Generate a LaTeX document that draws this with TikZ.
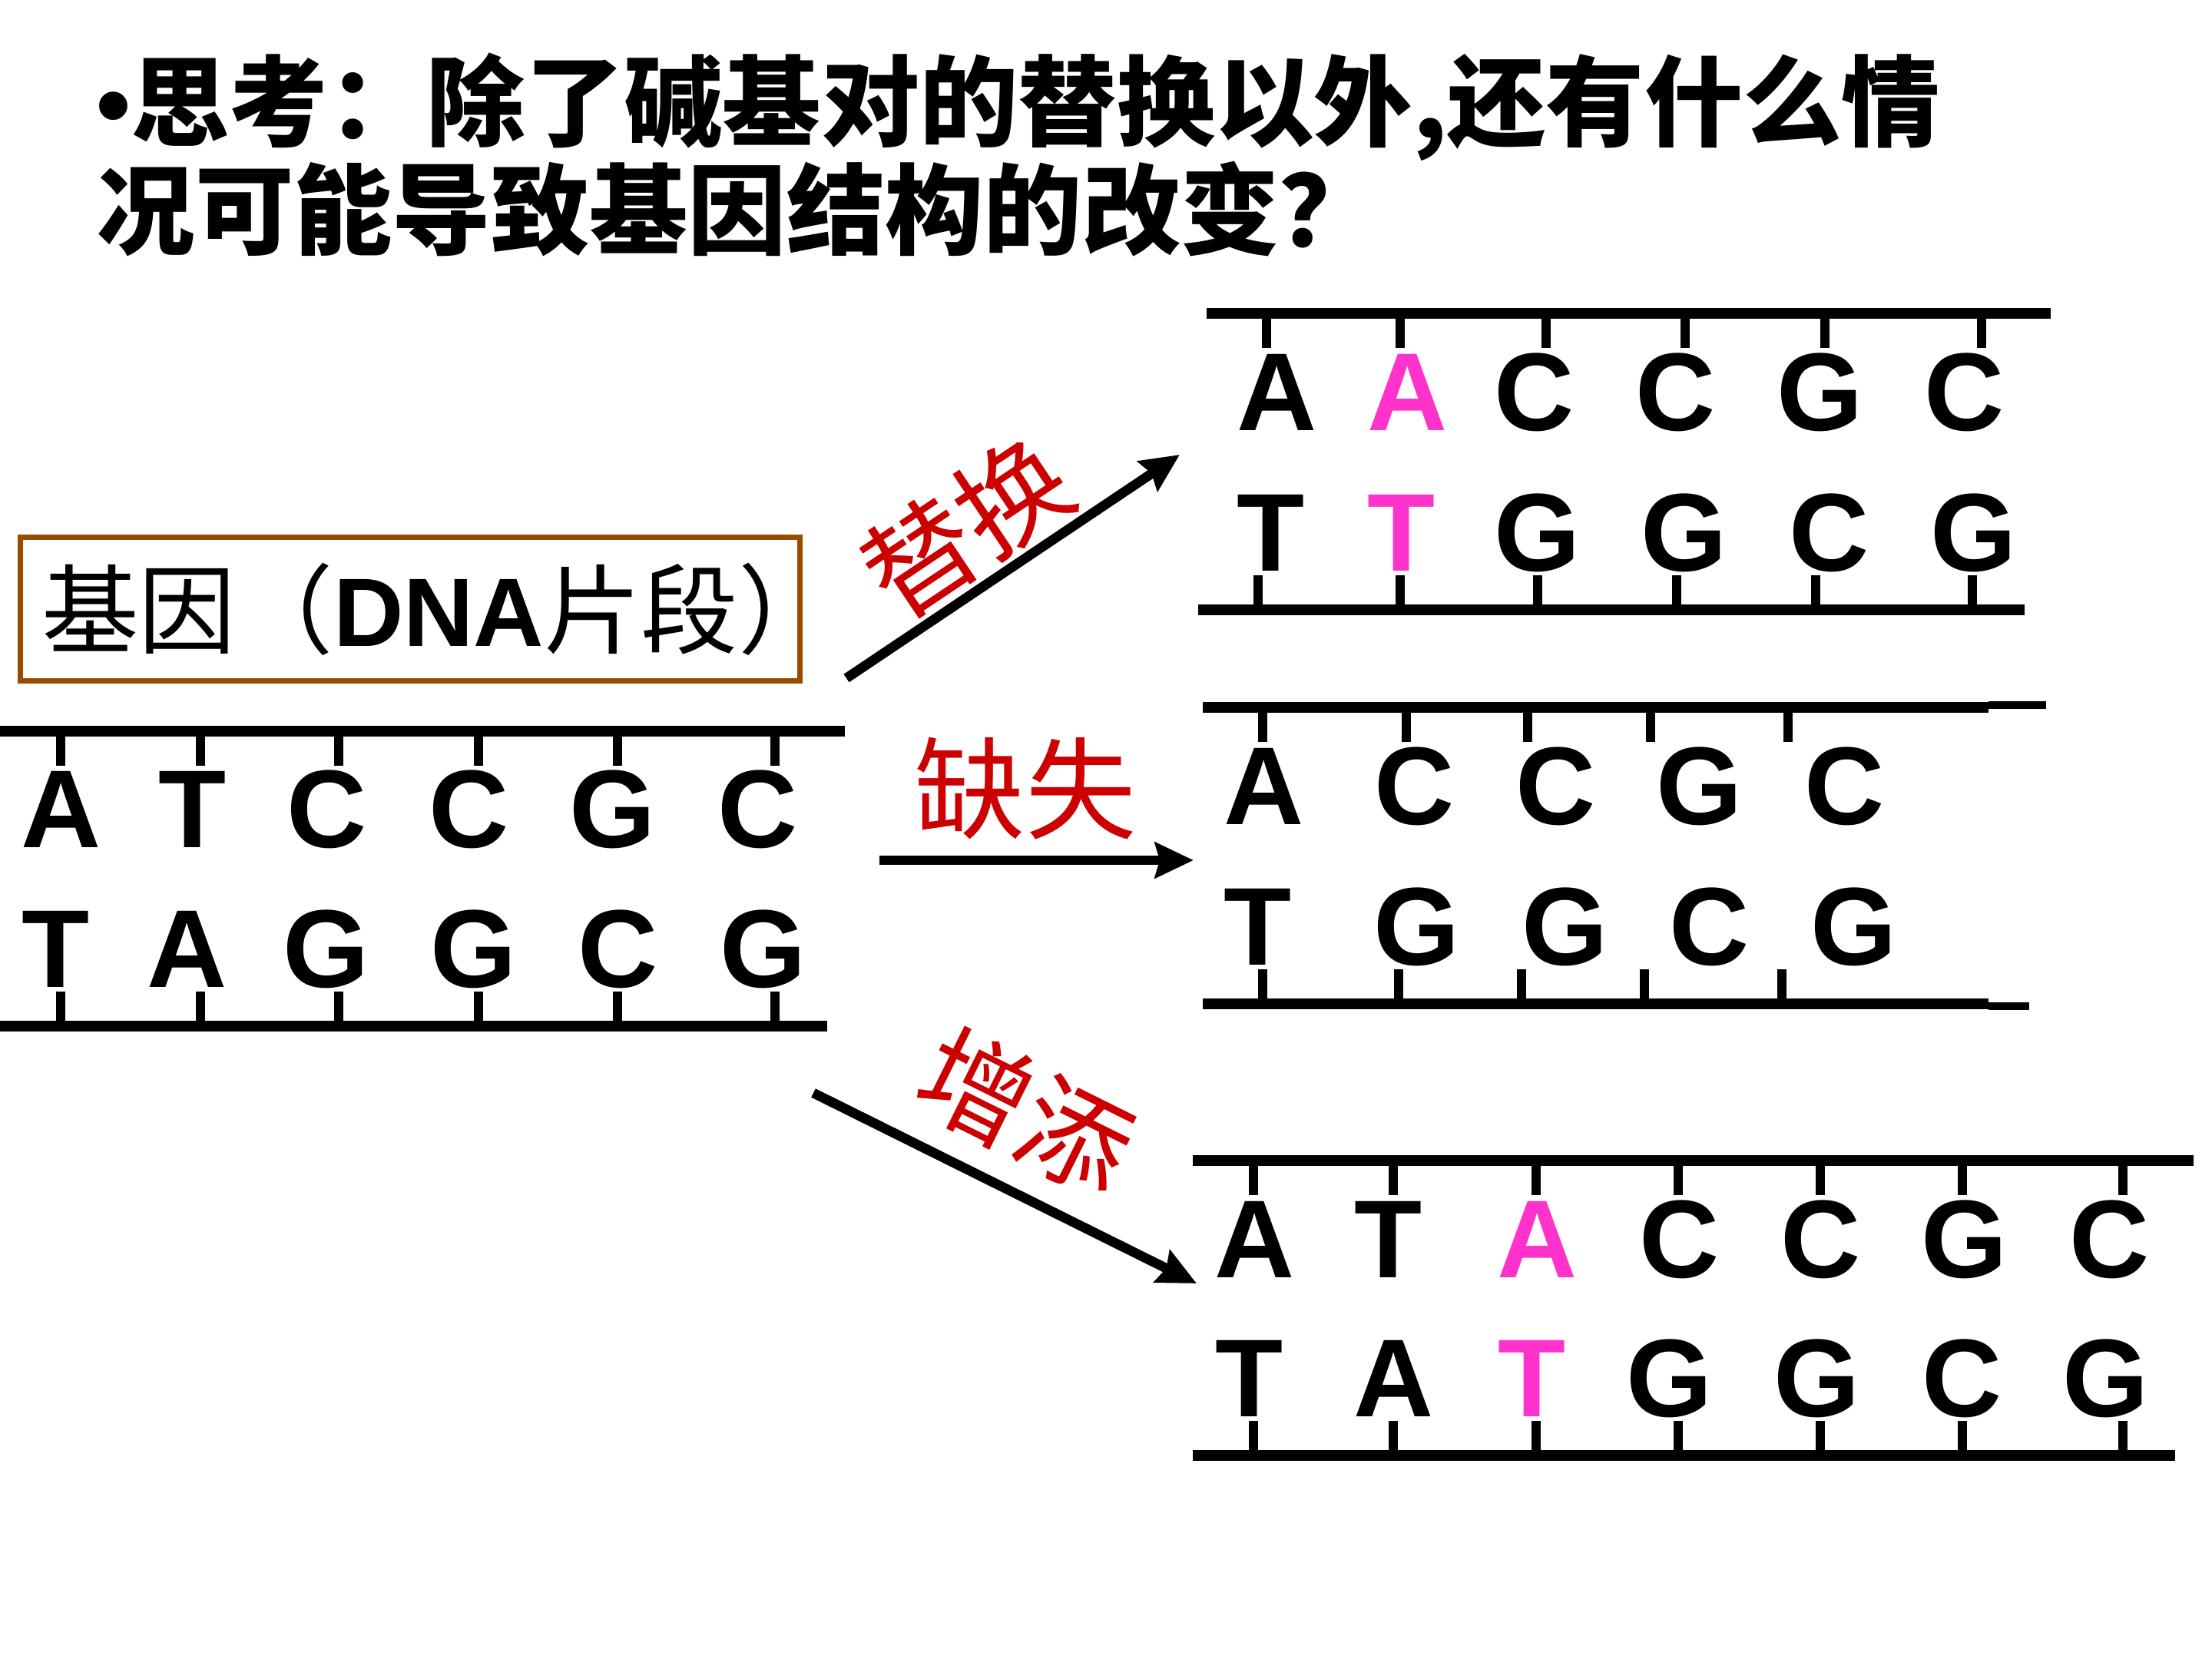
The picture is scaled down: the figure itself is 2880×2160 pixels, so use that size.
\documentclass[tikz,border=0pt]{standalone}
\usepackage{fontspec}
\setmainfont{Liberation Sans}
\newfontfamily\cjk{Noto Sans CJK SC}
\usetikzlibrary{arrows.meta}

\definecolor{boxbrown}{RGB}{153,76,0}
\definecolor{mutred}{RGB}{204,0,0}
\definecolor{newbase}{RGB}{255,51,204}

\tikzset{
  strand/.style={line width=4.2pt},
  thinend/.style={line width=2.8pt},
  rung/.style={line width=3.4pt},
  nuc/.style={font=\fontsize{41pt}{41pt}\selectfont\bfseries, inner sep=0pt, text height=29.4pt, text depth=0pt},
  change/.style={-{Stealth[length=0.5cm,width=0.46cm,inset=0.06cm]}, line width=3.6pt},
  mutname/.style={font=\cjk\fontsize{41pt}{41pt}\selectfont, text=mutred, inner sep=0pt},
  question/.style={anchor=base west, inner sep=0pt, font=\cjk\bfseries\fontsize{36.5pt}{36.5pt}\selectfont},
  genebox/.style={draw=boxbrown, line width=2pt, inner xsep=0.28cm, inner ysep=0pt, minimum height=1.87cm,
    font=\cjk\fontsize{36pt}{36pt}\selectfont},
}

\begin{document}
\begin{tikzpicture}[x=0.01cm, y=-0.01cm]
  \useasboundingbox (0,0) rectangle (2880,2160);

  % question
  \node[question] (q1) at (125,180) {{\rmfamily •}思考：除了碱基对的替换以外,还有什么情};
  \node[question] (q2) at (125,321) {况可能导致基因结构的改变？};

  \node[genebox] (gene) at (534,793) {\makebox[9.59cm][l]{基因（{\rmfamily\bfseries DNA}片段）}};

  % original gene
  \draw[strand] (0,952) -- (1100,952);
  \draw[strand] (0,1336) -- (1077,1336);
  \foreach \tx/\ux/\u/\lx/\l [count=\i] in {79/80/A/73/T, 261/251/T/244/A, 441/426/C/425/G,
      623/611/C/617/G, 804/798/G/805/C, 1009/987/C/994/G}
  {
    \draw[rung] (\tx,952) -- (\tx,997);
    \draw[rung] (\tx,1291) -- (\tx,1336);
    \node[nuc] (ou\i) at (\ux,1052) {\u};
    \node[nuc] (ol\i) at (\lx,1234) {\l};
  }

  % substitution
  \draw[strand] (1571,408) -- (2670,408);
  \draw[strand] (1560,794) -- (2636,794);
  \foreach \ta/\ux/\u/\tb/\lx/\l/\c [count=\i] in {1649/1663/A/1638/1655/T/black,
      1823/1833/A/1823/1825/T/newbase, 2013/1998/C/2002/2002/G/black,
      2194/2182/C/2183/2193/G/black, 2376/2370/G/2364/2382/C/black,
      2580/2558/C/2568/2570/G/black}
  {
    \draw[rung] (\ta,408) -- (\ta,453);
    \draw[rung] (\tb,749) -- (\tb,794);
    \node[nuc, text=\c] (su\i) at (\ux,509) {\u};
    \node[nuc, text=\c] (sl\i) at (\lx,692) {\l};
  }

  % deletion
  \draw[strand] (1566,921) -- (2589,921);
  \draw[thinend] (2589,918) -- (2664,918);
  \draw[strand] (1566,1307) -- (2589,1307);
  \draw[thinend] (2589,1310) -- (2642,1310);
  \foreach \ta/\ux/\u/\tb/\lx/\l [count=\i] in {1644/1646/A/1644/1638/T, 1831/1842/C/1821/1845/G,
      1989/2026/C/1981/2038/G, 2149/2213/G/2141/2226/C, 2328/2402/C/2320/2414/G}
  {
    \draw[rung] (\ta,921) -- (\ta,966);
    \draw[rung] (\tb,1262) -- (\tb,1307);
    \node[nuc] (du\i) at (\ux,1022) {\u};
    \node[nuc] (dl\i) at (\lx,1205) {\l};
  }

  % insertion
  \draw[strand] (1553,1511) -- (2856,1511);
  \draw[strand] (1553,1895) -- (2832,1895);
  \foreach \tx/\ux/\u/\lx/\l/\c [count=\i] in {1632/1634/A/1627/T/black, 1814/1808/T/1815/A/black,
      2000/2002/A/1995/T/newbase, 2185/2187/C/2174/G/black, 2370/2371/C/2366/G/black,
      2555/2558/G/2555/C/black, 2764/2747/C/2742/G/black}
  {
    \draw[rung] (\tx,1511) -- (\tx,1556);
    \draw[rung] (\tx,1850) -- (\tx,1895);
    \node[nuc, text=\c] (iu\i) at (\ux,1612) {\u};
    \node[nuc, text=\c] (il\i) at (\lx,1793) {\l};
  }

  % arrows
  \coordinate (subst from) at (1102,883);
  \coordinate (subst to) at (1536,592);
  \coordinate (del from) at (1145,1120);
  \coordinate (del to) at (1554,1120);
  \coordinate (ins from) at (1059,1423);
  \coordinate (ins to) at (1558,1671);
  \draw[change] (subst from) -- (subst to);
  \draw[change] (del from) -- (del to);
  \draw[change] (ins from) -- (ins to);

  \node[mutname, rotate=33.8] (subst) at (1258,686) {替换};
  \node[mutname] (del) at (1335,1027) {缺失};
  \node[mutname, rotate=-26.4] (ins) at (1336,1447) {增添};
\end{tikzpicture}
\end{document}
